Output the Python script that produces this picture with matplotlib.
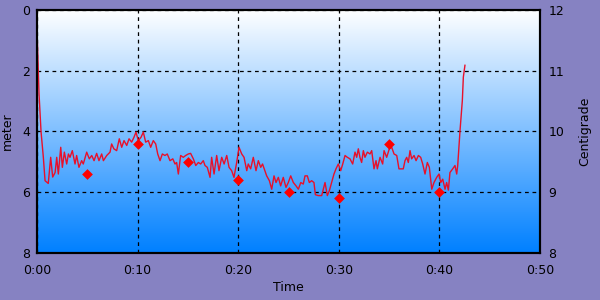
import numpy as np
import matplotlib.pyplot as plt
from matplotlib.colors import LinearSegmentedColormap
from matplotlib.ticker import FuncFormatter

# depth profile (minutes, meter)
time_min = [0.0, 0.03, 0.2, 0.4, 0.63, 0.8, 1.12, 1.36, 1.56, 1.8, 1.96, 2.12, 2.36, 2.52, 2.72, 2.95,
            3.12, 3.28, 3.51, 3.78, 3.94, 4.17, 4.44, 4.6, 4.94, 5.2, 5.44, 5.67, 5.93, 6.16, 6.43, 6.6,
            6.93, 7.26, 7.42, 7.64, 7.92, 8.18, 8.42, 8.65, 8.92, 9.15, 9.41, 9.64, 9.84, 10.07, 10.34,
            10.57, 10.8, 11.07, 11.3, 11.56, 11.8, 12.0, 12.23, 12.46, 12.72, 12.95, 13.22, 13.5, 13.72,
            13.88, 14.05, 14.28, 14.54, 14.78, 15.04, 15.27, 15.54, 15.78, 16.04, 16.27, 16.53, 16.7,
            16.93, 17.2, 17.36, 17.6, 17.86, 18.09, 18.36, 18.6, 18.86, 19.09, 19.35, 19.58, 19.85,
            20.08, 20.35, 20.58, 20.85, 21.0, 21.24, 21.5, 21.77, 22.0, 22.24, 22.42, 22.83, 23.1,
            23.33, 23.56, 23.76, 23.99, 24.22, 24.48, 24.75, 24.98, 25.22, 25.48, 25.75, 25.98, 26.22,
            26.47, 26.64, 26.87, 27.07, 27.3, 27.53, 27.67, 27.96, 28.3, 28.46, 28.63, 28.86, 29.06,
            29.29, 29.52, 29.72, 29.95, 30.19, 30.39, 30.62, 30.85, 31.11, 31.38, 31.61, 31.78, 31.94,
            32.1, 32.27, 32.44, 32.6, 32.84, 33.1, 33.27, 33.5, 33.7, 33.83, 34.1, 34.36, 34.5, 34.76,
            35.02, 35.26, 35.49, 35.76, 35.98, 36.25, 36.41, 36.58, 36.75, 36.91, 37.08, 37.24, 37.48,
            37.68, 37.91, 38.14, 38.34, 38.57, 38.8, 39.0, 39.24, 39.46, 39.73, 39.96, 40.13, 40.33,
            40.56, 40.72, 40.89, 41.05, 41.32, 41.55, 41.72, 41.82, 42.05, 42.28, 42.38, 42.54]
depth_m = [1.0, 0.94, 2.75, 4.0, 4.85, 5.62, 5.71, 4.85, 5.5, 5.35, 4.85, 5.4, 4.52, 5.18, 4.68, 5.07,
           4.74, 4.85, 4.63, 5.07, 4.79, 5.18, 4.96, 5.07, 4.68, 4.9, 4.79, 4.96, 4.72, 4.96, 4.74, 4.96,
           4.79, 4.68, 4.41, 4.57, 4.63, 4.24, 4.52, 4.3, 4.46, 4.24, 4.35, 4.19, 4.02, 4.3, 4.19,
           4.02, 4.35, 4.3, 4.52, 4.3, 4.41, 4.74, 4.96, 4.74, 4.79, 4.74, 4.96, 4.9, 5.07,
           5.02, 5.4, 4.79, 4.85, 4.79, 4.74, 4.72, 4.9, 5.12, 5.02, 5.07, 4.96, 5.12,
           5.18, 5.51, 4.85, 5.4, 4.79, 5.29, 4.85, 5.07, 4.79, 5.18, 5.29, 5.51, 5.02,
           4.52, 4.74, 4.85, 5.29, 5.07, 5.23, 4.85, 5.29, 4.96, 5.18, 5.07, 5.46, 5.62,
           5.9, 5.46, 5.68, 5.51, 5.79, 5.51, 5.84, 5.68, 5.46, 5.68, 5.79, 5.9, 5.68,
           5.73, 5.46, 5.46, 5.68, 5.62, 5.68, 6.08, 6.11, 6.11, 5.9, 5.68, 6.11, 5.95,
           5.68, 5.4, 5.23, 5.07, 5.29, 5.07, 4.79, 4.85, 4.9, 5.07, 4.68, 4.85, 4.57,
           4.85, 5.02, 4.63, 4.85, 4.68, 4.74, 4.63, 5.23, 4.96, 5.23, 4.85, 5.07, 4.63, 4.85,
           4.57, 4.52, 4.74, 4.79, 5.23, 5.23, 5.23, 4.96, 4.85, 5.02, 4.63, 4.9, 4.79,
           4.96, 4.79, 4.85, 5.07, 5.4, 5.02, 5.18, 5.9, 5.68, 5.51, 5.4, 5.68, 5.57,
           5.9, 5.68, 5.93, 5.35, 5.23, 5.12, 5.4, 5.12, 3.97, 2.98, 2.21, 1.82]

# temperature samples (minutes, centigrade)
temp_time = [5, 10, 15, 20, 25, 30, 35, 40]
temp_c = [9.3, 9.8, 9.5, 9.2, 9.0, 8.9, 9.8, 9.0]

x_ticks = [0, 10, 20, 30, 40, 50]
depth_ticks = [0, 2, 4, 6, 8]
temp_ticks = [8, 9, 10, 11, 12]

bg = '#8682C2'
fig = plt.figure(figsize=(6, 3), dpi=100, facecolor=bg)
ax = fig.add_axes([37 / 600, 47 / 300, 503 / 600, 243 / 300])

# white -> blue gradient plot area
cmap = LinearSegmentedColormap.from_list('sky', ['#FFFFFF', '#0080FF'])
grad = np.linspace(0, 1, 256).reshape(-1, 1)
ax.imshow(grad, cmap=cmap, aspect='auto', extent=[0, 50, 8, 0], zorder=0)

ax.plot(time_min, depth_m, color='#E8102A', lw=1, zorder=3)
ax.set_xlim(0, 50)
ax.set_ylim(8, 0)
ax.set_xticks(x_ticks)
ax.set_yticks(depth_ticks)
ax.xaxis.set_major_formatter(FuncFormatter(lambda v, p: f'{int(v) // 60}:{int(v) % 60:02d}'))
ax.grid(True, color='black', linestyle=(0, (3, 3)), lw=0.9, zorder=2)
ax.set_axisbelow(False)
ax.tick_params(axis='y', length=0, labelsize=9, pad=5)
ax.tick_params(axis='x', length=0, labelsize=9, pad=8)
ax.set_ylabel('meter', fontsize=9, labelpad=6)
ax.set_xlabel('Time', fontsize=9, labelpad=3)
for s in ax.spines.values():
    s.set_linewidth(1.5)
    s.set_zorder(5)

ax2 = ax.twinx()
ax2.set_ylim(8, 12)
ax2.set_yticks(temp_ticks)
ax2.scatter(temp_time, temp_c, marker='D', s=30, color='#FF0000', zorder=4, linewidths=0)
ax2.tick_params(length=0, labelsize=9, pad=6)
ax2.set_ylabel('Centigrade', fontsize=9, labelpad=10)
for s in ax2.spines.values():
    s.set_linewidth(1.5)

fig.savefig('out.png', dpi=100, facecolor=bg)
